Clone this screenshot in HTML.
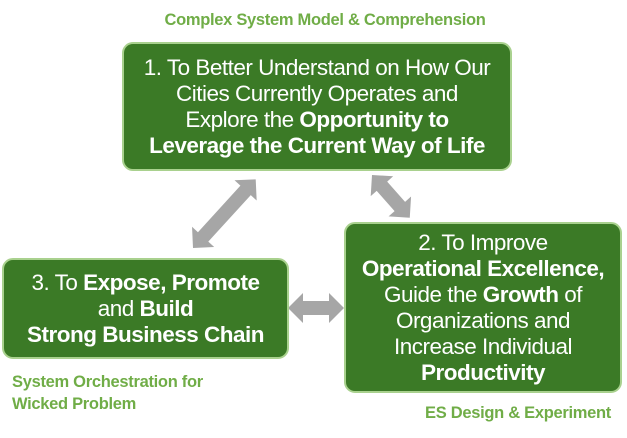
<!DOCTYPE html>
<html><head><meta charset="utf-8"><style>
body{margin:0;width:627px;height:438px;background:#fff;overflow:hidden;position:relative;font-family:"Liberation Sans",sans-serif}
.box{position:absolute;box-sizing:border-box;background:#3b7a26;border:2px solid #a9d18e;border-radius:11px;color:#fff;text-align:center;font-size:22.5px;line-height:26px;letter-spacing:-0.5px;display:flex;flex-direction:column;justify-content:center;white-space:nowrap}
.lbl{position:absolute;color:#70ad47;font-weight:bold;font-size:16.5px;letter-spacing:-0.3px;line-height:22px;white-space:nowrap}
b{font-weight:bold}
svg{position:absolute;left:0;top:0}
</style></head><body>
<svg width="627" height="438">
<g fill="#a6a6a6">
<g transform="translate(193,248) rotate(-47.6)"><polygon points="0,0 15,-15 15,-7 78,-7 78,-15 93,0 78,15 78,7 15,7 15,15"/></g>
<g transform="translate(372,175) rotate(48.5)"><polygon points="0,0 15,-15 15,-7 42,-7 42,-15 57,0 42,15 42,7 15,7 15,15"/></g>
<g transform="translate(288,308)"><polygon points="0,0 15,-15 15,-7 41,-7 41,-15 56,0 41,15 41,7 15,7 15,15"/></g>
</g>
</svg>
<div class="lbl" style="left:0;width:650px;top:9px;text-align:center">Complex System Model &amp; Comprehension</div>
<div class="box" style="left:122px;top:42px;width:390px;height:129px">
<div>1. To Better Understand on How Our</div>
<div>Cities Currently Operates and</div>
<div>Explore the <b>Opportunity to</b></div>
<div><b>Leverage the Current Way of Life</b></div>
</div>
<div class="box" style="left:344px;top:222px;width:278px;height:171px">
<div>2. To Improve</div>
<div><b>Operational Excellence,</b></div>
<div>Guide the <b>Growth</b> of</div>
<div>Organizations and</div>
<div>Increase Individual</div>
<div><b>Productivity</b></div>
</div>
<div class="box" style="left:2px;top:258px;width:287px;height:101px">
<div>3. To <b>Expose, Promote</b></div>
<div>and <b>Build</b></div>
<div><b>Strong Business Chain</b></div>
</div>
<div class="lbl" style="left:12px;top:371px">System Orchestration for<br>Wicked Problem</div>
<div class="lbl" style="right:16px;top:402px">ES Design &amp; Experiment</div>
</body></html>
